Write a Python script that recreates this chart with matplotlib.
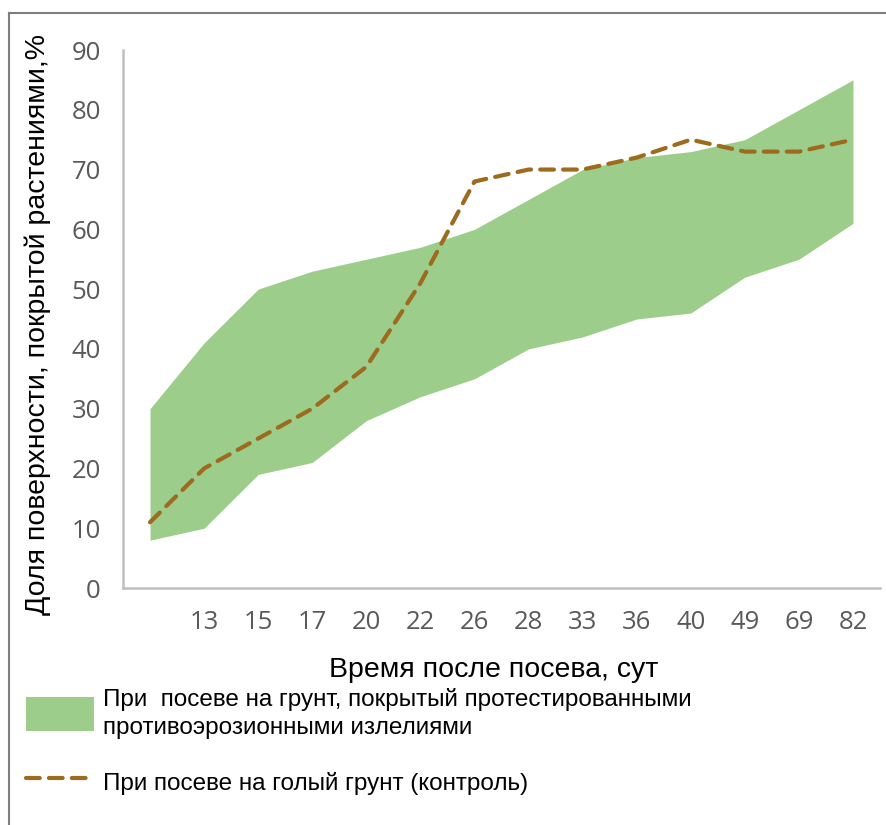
import matplotlib.pyplot as plt
from matplotlib.patches import Patch
from matplotlib.lines import Line2D
import numpy as np

days = ['', '13', '15', '17', '20', '22', '26', '28', '33', '36', '40', '49', '69', '82']
band_upper = [30, 41, 50, 53, 55, 57, 60, 65, 70, 72, 73, 75, 80, 85]
band_lower = [8, 10, 19, 21, 28, 32, 35, 40, 42, 45, 46, 52, 55, 61]
control = [11, 20, 25, 30, 37, 51, 68, 70, 70, 72, 75, 73, 73, 75]

label_band = 'При  посеве на грунт, покрытый протестированными\nпротивоэрозионными излелиями'
label_ctrl = 'При посеве на голый грунт (контроль)'

green = '#9ccd8a'
brown = '#9c6b1e'
grey = '#bfbfbf'
tick_font = 'Open Sans'
text_font = 'Liberation Sans'

fig = plt.figure(figsize=(8.87, 8.25), dpi=100)
ax = fig.add_axes([123 / 887, 1 - 588 / 825, (880 - 123) / 887, (588 - 50) / 825])

x = np.arange(len(days))
ax.fill_between(x, band_lower, band_upper, color=green, linewidth=0)
ax.plot(x, control, color=brown, linewidth=3, linestyle=(0, (3.3, 2.2)),
        dash_capstyle='round')

ax.set_xlim(-0.5, len(days) - 0.5)
ax.set_ylim(0, 90)
ax.set_xticks(x)
ax.set_xticklabels(days)
ax.set_yticks(np.arange(0, 91, 10))
ax.tick_params(axis='both', length=0, labelcolor='#595959', labelsize=18.5)
ax.tick_params(axis='y', pad=16)
ax.tick_params(axis='x', pad=16)
for lab in ax.get_xticklabels() + ax.get_yticklabels():
    lab.set_fontfamily(tick_font)

for side in ['top', 'right']:
    ax.spines[side].set_visible(False)
for side in ['left', 'bottom']:
    ax.spines[side].set_color(grey)
    ax.spines[side].set_linewidth(1.8)

ax.set_xlabel('Время после посева, сут', fontsize=20.5, fontfamily=text_font)
ax.xaxis.set_label_coords(0.49, -0.128)
ax.set_ylabel('Доля поверхности, покрытой растениями,%', fontsize=20.5,
              fontfamily=text_font)
ax.yaxis.set_label_coords(-0.095, 0.49)

handles = [Patch(facecolor=green, edgecolor='none'),
           Line2D([0], [0], color=brown, linewidth=3, linestyle=(0, (3.3, 2.2)),
                  dash_capstyle='round')]
leg = fig.legend(handles, [label_band, label_ctrl], loc='upper left',
                 bbox_to_anchor=(26 / 887, 1 - 688 / 825), frameon=False,
                 prop={'family': text_font, 'size': 17.5}, handlelength=2.8,
                 handleheight=1.75, handletextpad=0.35, labelspacing=1.1,
                 borderaxespad=0, borderpad=0)
for t in leg.get_texts():
    t.set_linespacing(1.35)

# thin frame around the figure (left and top only visible in the source)
fig.add_artist(Line2D([9 / 887, 9 / 887], [0, 1 - 13 / 825], transform=fig.transFigure,
                      color='#7f7f7f', linewidth=1.5))
fig.add_artist(Line2D([9 / 887, 1], [1 - 13 / 825, 1 - 13 / 825], transform=fig.transFigure,
                      color='#7f7f7f', linewidth=1.5))

fig.savefig('out.png', dpi=100)
